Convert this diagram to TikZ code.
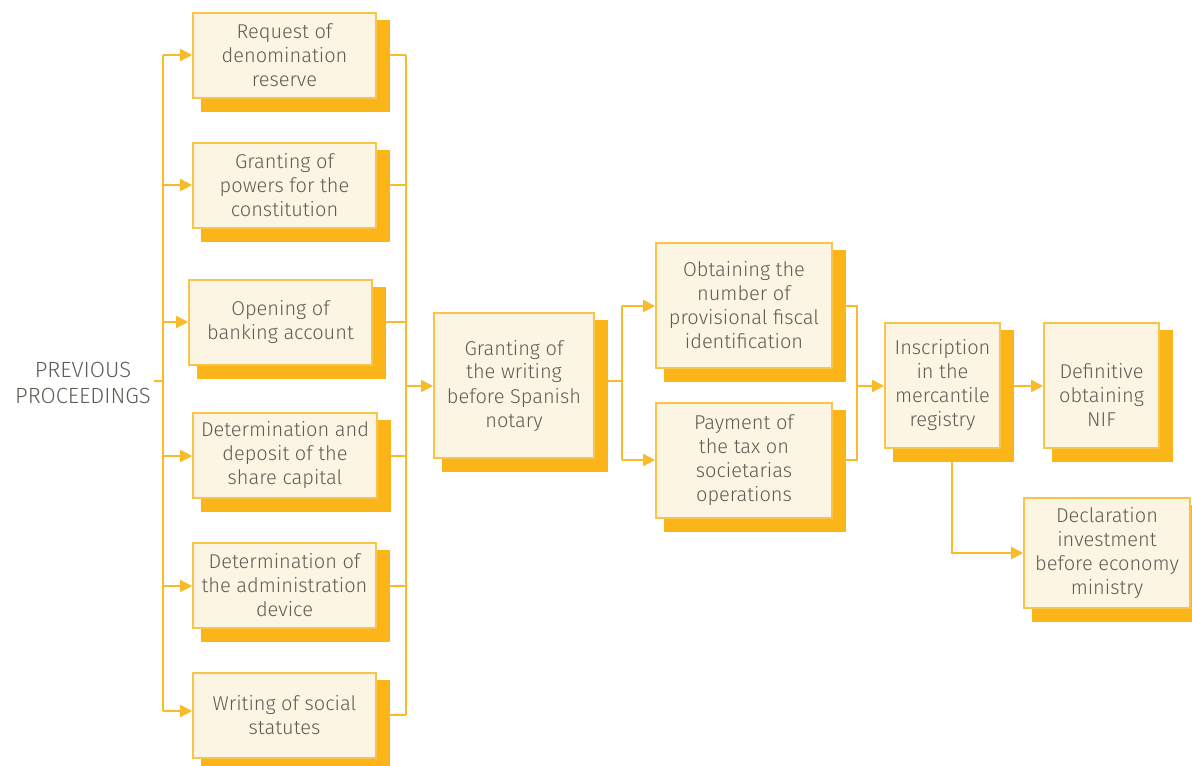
\documentclass[tikz,border=0pt]{standalone}
\usepackage{fontspec}
\setmainfont{Fira Sans}[UprightFont=* Light]
\usetikzlibrary{arrows.meta}
\definecolor{lineor}{HTML}{F9BA2C}
\definecolor{shador}{HTML}{FBB518}
\definecolor{boxfill}{HTML}{FDF5E3}
\definecolor{boxedge}{HTML}{F9C548}
\definecolor{txt}{HTML}{5E5D55}
\tikzset{
  conn/.style={draw=lineor, line width=1.4pt},
  arr/.style={conn, -{Triangle[length=9pt,width=9pt]}},
  pbox/.style={draw=boxedge, line width=1.2pt, fill=boxfill, text=txt,
    align=center, font=\fontsize{15pt}{18pt}\selectfont, inner sep=0pt},
}
% name, x1, y1, x2, y2, text  (pixel coordinates)
\newcommand\procbox[6]{%
  \fill[shador] (#2+8,#3+7) rectangle (#4+14,#5+14);
  \node[pbox, minimum width={(#4-#2)*0.75pt}, minimum height={(#5-#3)*0.75pt}]
    (#1) at ({(#2+#4)/2},{(#3+#5)/2}) {#6};}
\begin{document}
\begin{tikzpicture}[x=0.75pt,y=-0.75pt]
\useasboundingbox (0,0) rectangle (1192,765);
\clip (0,0) rectangle (1192,765);

\procbox{b1}{193}{13}{376}{98}{Request of\\denomination\\reserve}
\procbox{b2}{193}{143}{376}{228}{Granting of\\powers for the\\constitution}
\procbox{b3}{189}{280}{372}{365}{Opening of\\banking account}
\procbox{b4}{193}{413}{377}{498}{Determination and\\deposit of the\\share capital}
\procbox{b5}{193}{543}{376}{628}{Determination of\\the administration\\device}
\procbox{b6}{193}{673}{376}{758}{Writing of social\\statutes}
\procbox{gw}{434}{313}{594}{458}{Granting of\\the writing\\before Spanish\\notary}
\procbox{ob}{656}{243}{832}{368}{Obtaining the\\number of\\provisional fiscal\\identification}
\procbox{pay}{656}{403}{832}{518}{Payment of\\the tax on\\societarias\\operations}
\procbox{ins}{885}{323}{1000}{448}{Inscription\\in the\\mercantile\\registry}
\procbox{def}{1044}{323}{1159}{448}{\rule{0pt}{26pt}Definitive\\obtaining\\NIF}
\procbox{dec}{1024}{498}{1190}{608}{Declaration\\investment\\before economy\\ministry}

\node[text=txt, align=center, font=\fontsize{16.5pt}{20pt}\selectfont, inner sep=0pt]
  (prev) at (83,383) {PREVIOUS\\PROCEEDINGS};

% left bus
\coordinate (lb) at (163,381);
\draw[conn] (prev.east |- lb) ++(3,0) coordinate (pe) (pe) -- (lb);
\draw[conn] (163,55) -- (163,711);
\draw[arr] (163,55) -- (b1.west |- 163,55);
\draw[arr] (163,185) -- (b2.west |- 163,185);
\draw[arr] (163,322) -- (b3.west |- 163,322);
\draw[arr] (163,456) -- (b4.west |- 163,456);
\draw[arr] (163,586) -- (b5.west |- 163,586);
\draw[arr] (163,711) -- (b6.west |- 163,711);

% right bus
\draw[conn] (406,55) -- (406,715);
\draw[conn] (390,55) -- (406,55);
\draw[conn] (390,185) -- (406,185);
\draw[conn] (385,322) -- (406,322);
\draw[conn] (390,456) -- (406,456);
\draw[conn] (390,586) -- (406,586);
\draw[conn] (390,715) -- (406,715);
\draw[arr] (406,386) -- (gw.west |- 406,386);

% fork to ob / pay
\draw[conn] (607,381) -- (622,381);
\draw[conn] (622,306) -- (622,460);
\draw[arr] (622,306) -- (ob.west |- 622,306);
\draw[arr] (622,460) -- (pay.west |- 622,460);

% merge
\draw[conn] (845,306) -- (857,306) -- (857,460) -- (845,460);
\draw[arr] (857,386) -- (ins.west |- 857,386);

\draw[arr] (1014,386) -- (def.west |- 1014,386);
\draw[arr] (952,462) -- (952,553) -- (dec.west |- 952,553);
\end{tikzpicture}
\end{document}
